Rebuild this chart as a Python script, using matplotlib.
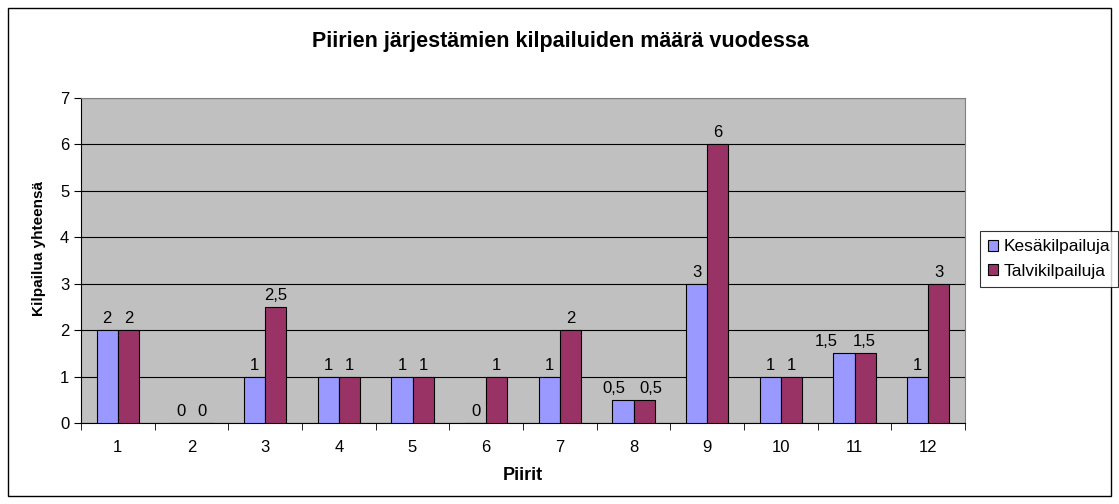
import matplotlib.pyplot as plt
import numpy as np
from matplotlib.patches import Rectangle

plt.rcParams["font.family"] = ["Liberation Sans", "DejaVu Sans"]

piirit = [str(i) for i in range(1, 13)]
kesa = [2, 0, 1, 1, 1, 0, 1, 0.5, 3, 1, 1.5, 1]
talvi = [2, 0, 2.5, 1, 1, 1, 2, 0.5, 6, 1, 1.5, 3]

# pixel nudges for crowded label pairs (blue, red)
nudge = {7: (-9, 7), 10: (-18, -1)}


def fmt(v):
    return ("%g" % v).replace(".", ",")


fig = plt.figure(figsize=(11.19, 5.04), dpi=100)
ax = fig.add_axes([81 / 1119, 81 / 504, 884 / 1119, 325 / 504])
ax.set_facecolor("#C0C0C0")

x = np.arange(len(piirit))
w = 1 / 3.5
b1 = ax.bar(x - w / 2, kesa, w, color="#9999FF", edgecolor="black", linewidth=0.8,
            label="Kesäkilpailuja", zorder=3)
b2 = ax.bar(x + w / 2, talvi, w, color="#993366", edgecolor="black", linewidth=0.8,
            label="Talvikilpailuja", zorder=3)
for k, (bars, vals) in enumerate([(b1, kesa), (b2, talvi)]):
    for i, (bar, v) in enumerate(zip(bars, vals)):
        dx = nudge.get(i, (0, 0))[k]
        ax.annotate(fmt(v), (bar.get_x() + bar.get_width() / 2, v), xytext=(dx, 4),
                    textcoords="offset pixels", ha="center", va="bottom", fontsize=12)

ax.set_xlim(-0.5, len(piirit) - 0.5)
ax.set_ylim(0, 7)
ax.set_yticks(range(8))
ax.yaxis.grid(True, color="black", linewidth=0.8, zorder=1)
ax.set_axisbelow(True)
ax.set_xticks(x)
ax.set_xticklabels(piirit)
ax.set_xticks(np.arange(-0.5, len(piirit)), minor=True)
ax.tick_params(axis="x", which="major", length=0, pad=12, labelsize=12)
ax.tick_params(axis="x", which="minor", length=5, direction="out")
ax.tick_params(axis="y", length=5, labelsize=12)
for s in ["top", "right"]:
    ax.spines[s].set_color("#808080")
ax.spines["left"].set_color("black")
ax.spines["bottom"].set_color("black")

ax.set_xlabel("Piirit", fontweight="bold", fontsize=13, labelpad=9)
fig.text(39 / 1119, 1 - 248 / 504, "Kilpailua yhteensä", rotation=90, ha="center", va="center",
         fontweight="bold", fontsize=11)
fig.text(560 / 1119, 1 - 42 / 504, "Piirien järjestämien kilpailuiden määrä vuodessa",
         ha="center", va="center", fontweight="bold", fontsize=15.5)

leg = fig.legend(handles=[b1, b2], loc="center left",
                 bbox_to_anchor=(980 / 1119, 1 - 259 / 504), frameon=True, fancybox=False,
                 fontsize=12.5, handlelength=0.6, handleheight=0.6, handletextpad=0.3,
                 borderpad=0.45, labelspacing=0.55, borderaxespad=0)
leg.get_frame().set_edgecolor("black")
leg.get_frame().set_linewidth(0.8)

fig.patches.append(Rectangle((8 / 1119, 8 / 504), 1103 / 1119, 488 / 504, transform=fig.transFigure,
                             fill=False, edgecolor="black", linewidth=1))

fig.savefig("out.png", dpi=100)
